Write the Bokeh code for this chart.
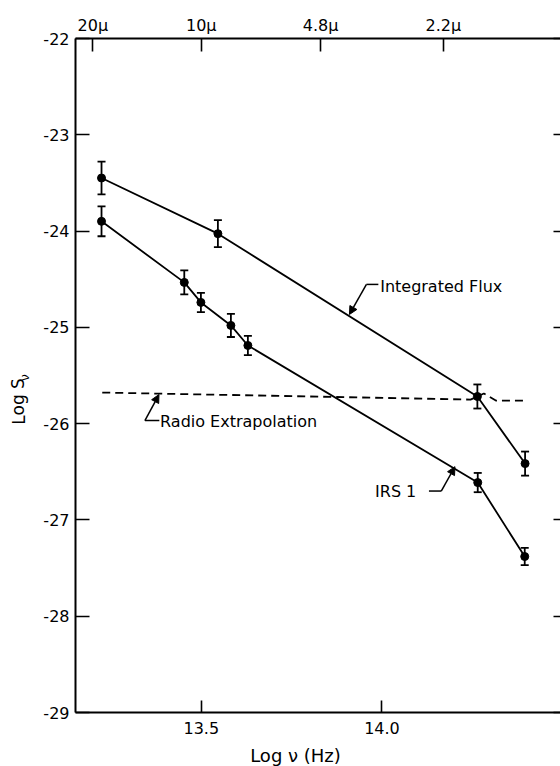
from bokeh.plotting import figure
from bokeh.layouts import row, column
from bokeh.models import (Range1d, LinearAxis, FixedTicker, Label, Whisker, TeeHead,
                          Arrow, NormalHead, ColumnDataSource)
from bokeh.embed import file_html
from bokeh.resources import INLINE
from bokeh.core.properties import value

FONT = "DejaVu Sans"

# ---- axes ticks ----
y_ticks = [-22, -23, -24, -25, -26, -27, -28, -29]
y_tick_labels = ["-22", "-23", "-24", "-25", "-26", "-27", "-28", "-29"]
x_ticks = [13.5, 14.0]
x_tick_labels = ["13.5", "14.0"]
top_ticks = [13.20, 13.50, 13.83, 14.17]
top_tick_labels = ["20\u03bc", "10\u03bc", "4.8\u03bc", "2.2\u03bc"]

# ---- data (log nu, log S_nu, error) ----
int_nu = [13.224, 13.546, 14.264, 14.396]
int_s = [-23.449, -24.027, -25.718, -26.415]
int_err = [0.17, 0.14, 0.125, 0.125]

irs_nu = [13.224, 13.453, 13.499, 13.582, 13.629, 14.265, 14.395]
irs_s = [-23.899, -24.533, -24.741, -24.980, -25.188, -26.612, -27.380]
irs_err = [0.155, 0.125, 0.10, 0.12, 0.10, 0.10, 0.09]

radio_nu = [13.226, 14.245, 14.263, 14.282, 14.315, 14.403]
radio_s = [-25.677, -25.750, -25.720, -25.687, -25.760, -25.760]

# ---- texts ----
ann_int = "Integrated Flux"
ann_radio = "Radio Extrapolation"
ann_irs = "IRS 1"
x_title = "Log \u03bd (Hz)"
y_title = "Log S"
y_title_sub = "\u03bd"

W, H = 560, 766
YLAB_W = 40
XLAB_H = 26

def bare(fig):
    fig.grid.visible = False
    fig.outline_line_color = None
    fig.background_fill_color = "white"
    fig.border_fill_color = "white"

p = figure(width=W - YLAB_W, height=H - XLAB_H, output_backend="svg", toolbar_location=None,
           title=None, x_range=Range1d(13.152, 14.494), y_range=Range1d(-29, -22),
           min_border_left=73 - YLAB_W, min_border_top=38, min_border_bottom=28,
           min_border_right=0, x_axis_location=None, y_axis_location=None)
bare(p)

def style_axis(ax, tick_in):
    ax.major_tick_in = tick_in
    ax.major_tick_out = 0
    ax.minor_tick_line_color = None
    ax.axis_line_width = 2
    ax.major_tick_line_width = 1.6
    ax.axis_line_color = "black"
    ax.major_tick_line_color = "black"
    ax.major_label_text_font = FONT
    ax.major_label_text_font_size = "16px"
    ax.major_label_text_color = "black"

left = LinearAxis(ticker=FixedTicker(ticks=y_ticks),
                  major_label_overrides={t: l for t, l in zip(y_ticks, y_tick_labels)})
style_axis(left, 14)
left.major_label_standoff = 6
p.add_layout(left, "left")

bottom = LinearAxis(ticker=FixedTicker(ticks=x_ticks),
                    major_label_overrides={t: l for t, l in zip(x_ticks, x_tick_labels)})
style_axis(bottom, 12)
bottom.major_label_standoff = 9
p.add_layout(bottom, "below")

top = LinearAxis(ticker=FixedTicker(ticks=top_ticks),
                 major_label_overrides={t: l for t, l in zip(top_ticks, top_tick_labels)})
style_axis(top, 13)
top.major_label_standoff = 4
p.add_layout(top, "above")

right = LinearAxis(ticker=FixedTicker(ticks=y_ticks),
                   major_label_overrides={t: "" for t in y_ticks})
style_axis(right, 7)
right.axis_line_color = None
right.major_label_standoff = 0
right.major_label_text_font_size = "0px"
p.add_layout(right, "right")

# ---- series ----
def series(nu, s, err):
    src = ColumnDataSource(dict(x=nu, y=s, lo=[a - e for a, e in zip(s, err)],
                                hi=[a + e for a, e in zip(s, err)]))
    p.line("x", "y", source=src, line_color="black", line_width=1.8)
    p.scatter("x", "y", source=src, size=8, fill_color="black", line_color="black")
    w = Whisker(base="x", upper="hi", lower="lo", source=src, dimension="height",
                line_width=1.8, line_color="black",
                upper_head=TeeHead(size=8, line_width=1.8, line_color="black"),
                lower_head=TeeHead(size=8, line_width=1.8, line_color="black"))
    p.add_layout(w)

series(int_nu, int_s, int_err)
series(irs_nu, irs_s, irs_err)

p.line(radio_nu, radio_s, line_color="black", line_width=1.8, line_dash="8 5")

# ---- annotations ----
def note(text, tx, ty, align, hx0, hx1, hy, ax0, ay0, ax1, ay1):
    p.add_layout(Label(x=tx, y=ty, text=text, text_align=align, text_baseline="middle",
                       text_font=FONT, text_font_size="16px", text_color="black"))
    p.line([hx0, hx1], [hy, hy], line_color="black", line_width=1.5)
    p.add_layout(Arrow(end=NormalHead(size=8, fill_color="black", line_color="black", line_width=1),
                       x_start=ax0, y_start=ay0, x_end=ax1, y_end=ay1,
                       line_color="black", line_width=1.5))

note(ann_int, 13.995, -24.575, "left", 13.957, 13.990, -24.554,
     13.957, -24.554, 13.910, -24.866)
note(ann_radio, 13.386, -25.978, "left", 13.344, 13.384, -25.968,
     13.344, -25.968, 13.383, -25.698)
note(ann_irs, 14.095, -26.70, "right", 14.130, 14.164, -26.70,
     14.164, -26.70, 14.202, -26.447)

# ---- y-axis title strip (left) ----
ylab = figure(width=YLAB_W, height=H - XLAB_H, output_backend="svg", toolbar_location=None,
              title=None, x_range=Range1d(0, YLAB_W), y_range=Range1d(0, H - XLAB_H),
              min_border=0, x_axis_location=None, y_axis_location=None)
bare(ylab)
ylab.text(x=[18], y=[H - XLAB_H - 424], text=[y_title], angle=1.5708,
          text_align="left", text_baseline="middle",
          text_font=value(FONT), text_font_size="17px", text_color="black")
ylab.text(x=[24], y=[H - XLAB_H - 376], text=[y_title_sub], angle=1.5708,
          text_align="left", text_baseline="middle",
          text_font=value(FONT), text_font_size="12px", text_color="black")

# ---- x-axis title strip (bottom) ----
xlab = figure(width=W, height=XLAB_H, output_backend="svg", toolbar_location=None,
              title=None, x_range=Range1d(0, W), y_range=Range1d(0, XLAB_H),
              min_border=0, x_axis_location=None, y_axis_location=None)
bare(xlab)
xlab.text(x=[295], y=[11], text=[x_title], text_align="center", text_baseline="middle",
          text_font=value(FONT), text_font_size="18px", text_color="black")

layout = column(row(ylab, p, spacing=0), xlab, spacing=0)

open("out.html", "w").write(file_html(layout, INLINE))
